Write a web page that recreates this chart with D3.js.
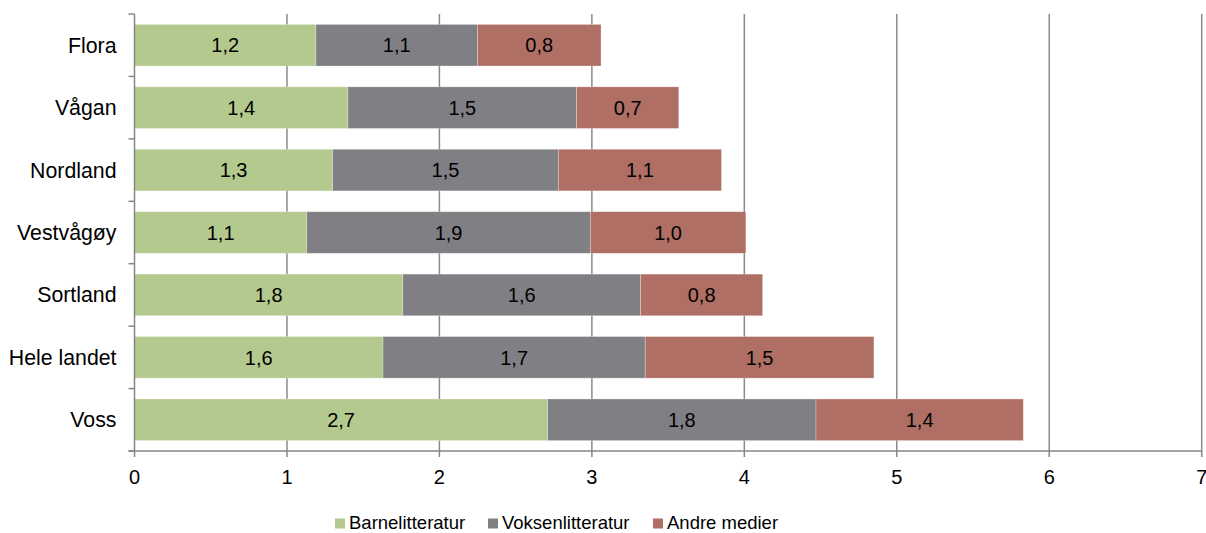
<!DOCTYPE html>
<html><head><meta charset="utf-8">
<script src="https://cdn.jsdelivr.net/npm/d3@7"></script>
<style>body{margin:0;background:#fff}svg{display:block}text{font-family:"Liberation Sans",Arial,sans-serif;fill:#000}</style>
</head><body><svg id="c" width="1206" height="533"></svg>
<script>
const categories = ["Flora","Vågan","Nordland","Vestvågøy","Sortland","Hele landet","Voss"];
const seriesNames = ["Barnelitteratur","Voksenlitteratur","Andre medier"];
const barnelitteratur = [1.19,1.40,1.30,1.13,1.76,1.63,2.71];
const voksenlitteratur = [1.06,1.50,1.48,1.86,1.56,1.72,1.76];
const andreMedier = [0.81,0.67,1.07,1.02,0.80,1.50,1.36];
const xTicks = [0,1,2,3,4,5,6,7];
const colors = ["#B3C98D","#807F84","#AF6F64"];

const svg = d3.select("#c");
const L = 134.5, R = 1201.7, T = 14, B = 451;
const x = d3.scaleLinear().domain([0,7]).range([L,R]);
const y = d3.scaleBand().domain(categories).range([T,B]).paddingInner(1/3).paddingOuter(1/6);
const yEdges = d3.scaleBand().domain(categories).range([T,B]);

// gridlines
svg.append("g").selectAll("line").data(xTicks.filter(d=>d>0)).join("line")
  .attr("x1",d=>x(d)).attr("x2",d=>x(d)).attr("y1",T).attr("y2",B)
  .attr("stroke","#8a8a8a").attr("stroke-width",1.5);

const rows = categories.map((c,i)=>({cat:c, vals:[barnelitteratur[i],voksenlitteratur[i],andreMedier[i]]}));
const fmt = v => v.toFixed(1).replace(".",",");
const g = svg.append("g");
rows.forEach(r=>{
  let acc = 0;
  r.vals.forEach((v,k)=>{
    const x0 = x(acc), x1 = x(acc+v);
    g.append("rect").attr("x",x0).attr("y",y(r.cat)).attr("width",x1-x0).attr("height",y.bandwidth())
      .attr("fill",colors[k]).attr("stroke","#ffffff").attr("stroke-opacity",0.35).attr("stroke-width",0.8);
    g.append("text").attr("x",(x0+x1)/2).attr("y",y(r.cat)+y.bandwidth()/2).attr("dy","0.36em")
      .attr("text-anchor","middle").attr("font-size",20).text(fmt(v));
    acc += v;
  });
});

// axes
const axisCol = "#868686";
svg.append("line").attr("x1",L).attr("x2",L).attr("y1",T).attr("y2",B).attr("stroke",axisCol).attr("stroke-width",1.5);
svg.append("line").attr("x1",L-6).attr("x2",R).attr("y1",B).attr("y2",B).attr("stroke",axisCol).attr("stroke-width",1.5);
const edges = categories.map(c=>yEdges(c)).concat([B]);
svg.append("g").selectAll("line").data(edges).join("line")
  .attr("x1",L-6).attr("x2",L).attr("y1",d=>d).attr("y2",d=>d).attr("stroke",axisCol).attr("stroke-width",1.5);
svg.append("g").selectAll("line").data(xTicks).join("line")
  .attr("x1",d=>x(d)).attr("x2",d=>x(d)).attr("y1",B).attr("y2",B+6).attr("stroke",axisCol).attr("stroke-width",1.5);
svg.append("g").selectAll("text").data(xTicks).join("text")
  .attr("x",d=>x(d)).attr("y",484).attr("text-anchor","middle").attr("font-size",20).text(d=>d);
svg.append("g").selectAll("text").data(categories).join("text")
  .attr("x",116.5).attr("y",d=>y(d)+y.bandwidth()/2).attr("dy","0.35em")
  .attr("text-anchor","end").attr("font-size",21.3).text(d=>d);

// legend
const legX = [335,488,653];
const lg = svg.append("g");
seriesNames.forEach((s,i)=>{
  lg.append("rect").attr("x",legX[i]).attr("y",518.5).attr("width",10).attr("height",10).attr("fill",colors[i]);
  lg.append("text").attr("x",legX[i]+14).attr("y",528.5).attr("font-size",18.5).text(s);
});
</script></body></html>
